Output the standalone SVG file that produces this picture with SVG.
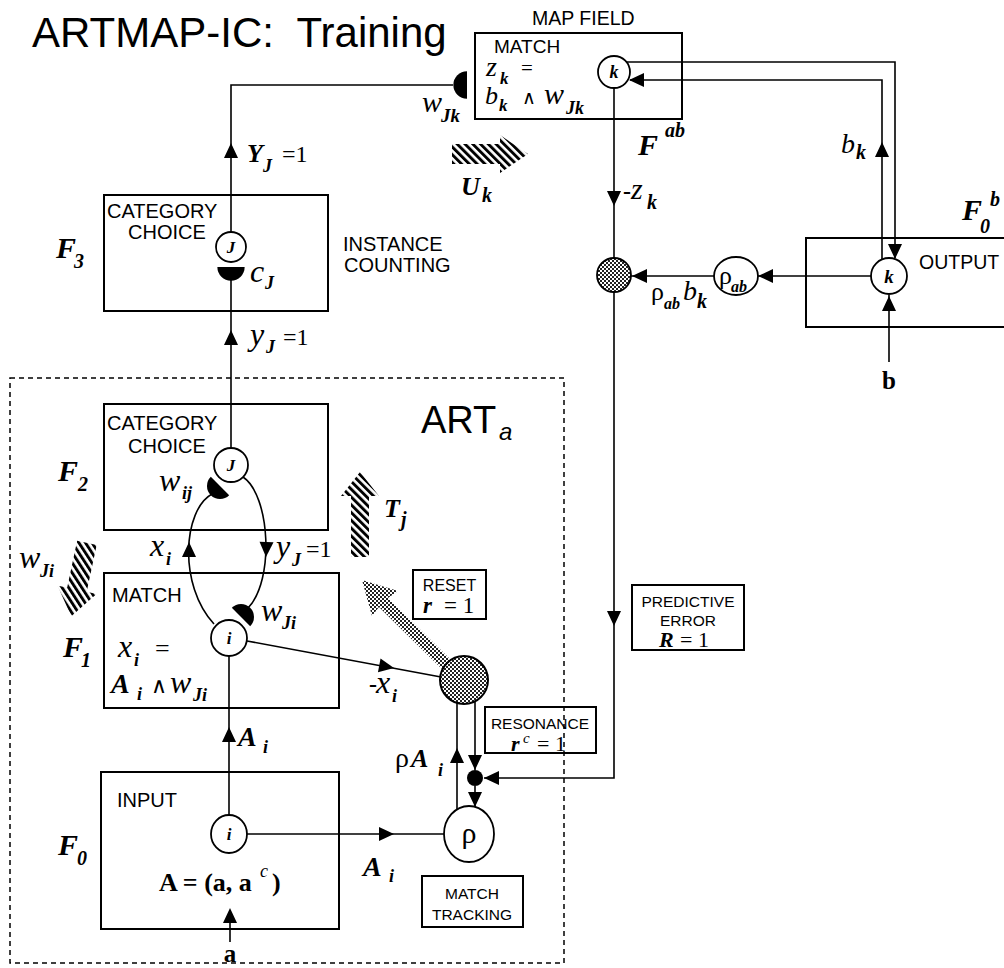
<svg xmlns="http://www.w3.org/2000/svg" xmlns:xlink="http://www.w3.org/1999/xlink" width="1004" height="968" viewBox="0 0 1004 968">
<style>
.s{font-family:"Liberation Sans",Arial,Helvetica,sans-serif;fill:#000}
.m{font-family:"Liberation Serif","Times New Roman",serif;font-style:italic;fill:#000}
.M{font-family:"Liberation Serif","Times New Roman",serif;font-style:italic;font-weight:bold;fill:#000}
.sb{font-family:"Liberation Serif","Times New Roman",serif;font-style:italic;font-weight:bold;fill:#000}
.rm{font-family:"Liberation Serif","Times New Roman",serif;fill:#000}
.bd{font-family:"Liberation Serif","Times New Roman",serif;font-weight:bold;fill:#000}
.box{fill:none;stroke:#000;stroke-width:2}
.node{fill:#fff;stroke:#000;stroke-width:1.8}
.ln{fill:none;stroke:#000;stroke-width:1.6}
.hd{fill:#000}
</style>
<defs>
<path id="ah" d="M0,0 L-15,-7 L-15,7 Z"/>
<path id="hdisk" d="M-13,0 A13,13 0 0 0 13,0 Z"/>
<pattern id="stripes" width="5.5" height="5.5" patternUnits="userSpaceOnUse" patternTransform="rotate(-45)">
<rect width="2.9" height="5.5" fill="#000"/>
</pattern>
<pattern id="stip" width="4" height="4" patternUnits="userSpaceOnUse">
<rect width="4" height="4" fill="#fff"/>
<rect width="2" height="2" fill="#222"/>
<rect x="2" y="2" width="2" height="2" fill="#222"/>
</pattern>
</defs>

<g id="title">
<text class="s" x="32" y="47" font-size="42">ARTMAP-IC:&#160; Training</text>
</g>

<g id="connectors">
<path class="ln" d="M231,233 V85 H453"/>
<use href="#ah" class="hd" transform="translate(231,143) rotate(-90)"/>
<path class="ln" d="M231,448 V280"/>
<use href="#ah" class="hd" transform="translate(231,330) rotate(-90)"/>
<path class="ln" d="M627,62 H895 V258"/>
<use href="#ah" class="hd" transform="translate(895,259) rotate(90)"/>
<path class="ln" d="M882,259 V80 H630"/>
<use href="#ah" class="hd" transform="translate(882,142) rotate(-90)"/>
<use href="#ah" class="hd" transform="translate(629,80) rotate(180)"/>
<path class="ln" d="M614,88 V258"/>
<use href="#ah" class="hd" transform="translate(614,206) rotate(90)"/>
<path class="ln" d="M614,292 V778 H484"/>
<use href="#ah" class="hd" transform="translate(614,626) rotate(90)"/>
<use href="#ah" class="hd" transform="translate(484,778) rotate(180)"/>
<path class="ln" d="M871,276 H758"/>
<use href="#ah" class="hd" transform="translate(758,276) rotate(180)"/>
<path class="ln" d="M714,276 H631"/>
<use href="#ah" class="hd" transform="translate(632,276) rotate(180)"/>
<path class="ln" d="M889,362 V295"/>
<use href="#ah" class="hd" transform="translate(889,296) rotate(-90)"/>
<path class="ln" d="M247,641 L441,677"/>
<use href="#ah" class="hd" transform="translate(394,668) rotate(10.5)"/>
<path class="ln" d="M475,702 V770"/>
<use href="#ah" class="hd" transform="translate(475,770) rotate(90)"/>
<path class="ln" d="M475,786 V807"/>
<use href="#ah" class="hd" transform="translate(475,807) rotate(90)"/>
<path class="ln" d="M457,811 V703"/>
<use href="#ah" class="hd" transform="translate(457,748) rotate(-90)"/>
<path class="ln" d="M247,834 H444"/>
<use href="#ah" class="hd" transform="translate(394,834)"/>
<path class="ln" d="M229,816 V656"/>
<use href="#ah" class="hd" transform="translate(229,727) rotate(-90)"/>
<path class="ln" d="M230,942 V910"/>
<use href="#ah" class="hd" transform="translate(230,908) rotate(-90)"/>
<path class="ln" d="M214,624 C178,585 183,510 212,494"/>
<use href="#ah" class="hd" transform="translate(189,542) rotate(-90)"/>
<path class="ln" d="M243,477 C270,495 275,580 248,608"/>
<use href="#ah" class="hd" transform="translate(266,557) rotate(92)"/>
</g>

<g id="art-a">
<rect x="10" y="378" width="554" height="585" fill="none" stroke="#000" stroke-width="1.5" stroke-dasharray="5,4"/>
<text class="s" x="421" y="433" font-size="38">ART</text>
<text class="s" x="499" y="440" font-size="24" font-style="italic">a</text>
</g>

<g id="map-field">
<text class="s" x="532" y="25" font-size="19.5">MAP FIELD</text>
<rect class="box" x="475" y="33" width="207" height="86"/>
<text class="s" x="494" y="53" font-size="19">MATCH</text>
<text class="m" x="486" y="76" font-size="28">z</text>
<text class="sb" x="500" y="84" font-size="17">k</text>
<text class="rm" x="521" y="75" font-size="21">=</text>
<text class="m" x="485" y="104" font-size="26">b</text>
<text class="sb" x="499" y="111" font-size="17">k</text>
<text class="rm" x="522" y="104" font-size="19">∧</text>
<text class="m" x="544" y="104" font-size="30">w</text>
<text class="sb" x="566" y="114" font-size="18">Jk</text>
<circle class="node" cx="614" cy="72" r="16"/>
<text class="sb" x="614" y="78" font-size="18" text-anchor="middle">k</text>
<text class="M" x="638" y="155" font-size="30">F</text>
<text class="sb" x="665" y="137" font-size="20">ab</text>
<use href="#hdisk" class="hd" transform="translate(467,85) rotate(90) scale(1.05)"/>
<text class="m" x="422" y="112" font-size="30">w</text>
<text class="sb" x="441" y="122" font-size="19">Jk</text>
<path d="M452,144 L500,144 L500,135 L528,154 L500,173 L500,164 L452,164 Z" fill="url(#stripes)"/>
<text class="M" x="461" y="195" font-size="26">U</text>
<text class="sb" x="482" y="202" font-size="20">k</text>
<text class="rm" x="623" y="199" font-size="24" font-weight="bold">-</text>
<text class="m" x="631" y="199" font-size="30">z</text>
<text class="sb" x="647" y="209" font-size="20">k</text>
</g>

<g id="output">
<rect class="box" x="806" y="238" width="220" height="89"/>
<text class="s" x="919" y="269" font-size="19.5">OUTPUT</text>
<circle class="node" cx="889" cy="276" r="18"/>
<text class="sb" x="889" y="283" font-size="19" text-anchor="middle">k</text>
<text class="M" x="962" y="220" font-size="30">F</text>
<text class="sb" x="980" y="233" font-size="20">0</text>
<text class="sb" x="990" y="206" font-size="20">b</text>
<text class="bd" x="889" y="389" font-size="25" text-anchor="middle">b</text>
<text class="m" x="841" y="153" font-size="28">b</text>
<text class="sb" x="856" y="159" font-size="20">k</text>
</g>

<g id="rho-ab">
<ellipse class="node" cx="736" cy="276" rx="22" ry="19"/>
<text class="rm" x="719" y="284" font-size="26">ρ</text>
<text class="sb" x="731" y="292" font-size="16">ab</text>
<text class="rm" x="651" y="300" font-size="26">ρ</text>
<text class="sb" x="664" y="309" font-size="16">ab</text>
<text class="m" x="683" y="300" font-size="28">b</text>
<text class="sb" x="697" y="308" font-size="20">k</text>
</g>

<g id="mismatch-node">
<circle cx="614" cy="275" r="17" fill="url(#stip)" stroke="#000" stroke-width="1.8"/>
</g>

<g id="F3">
<rect class="box" x="104" y="195" width="224" height="116"/>
<text class="s" x="107" y="218" font-size="20">CATEGORY</text>
<text class="s" x="128" y="239" font-size="20">CHOICE</text>
<circle class="node" cx="231" cy="247" r="15"/>
<text class="sb" x="231" y="253" font-size="17" text-anchor="middle">J</text>
<use href="#hdisk" class="hd" transform="translate(231,267) scale(1.05)"/>
<text class="m" x="250" y="282" font-size="32">c</text>
<text class="sb" x="265" y="289" font-size="18">J</text>
<text class="M" x="56" y="258" font-size="30">F</text>
<text class="sb" x="74" y="268" font-size="20">3</text>
<text class="M" x="247" y="162" font-size="26">Y</text>
<text class="sb" x="263" y="172" font-size="18">J</text>
<text class="rm" x="282" y="162" font-size="24">=1</text>
<text class="s" x="343" y="251" font-size="20">INSTANCE</text>
<text class="s" x="344" y="272" font-size="20">COUNTING</text>
<text class="m" x="250" y="345" font-size="32">y</text>
<text class="sb" x="266" y="353" font-size="18">J</text>
<text class="rm" x="283" y="345" font-size="24">=1</text>
</g>

<g id="F2">
<rect class="box" x="104" y="404" width="224" height="126"/>
<text class="s" x="107" y="430" font-size="20">CATEGORY</text>
<text class="s" x="128" y="453" font-size="20">CHOICE</text>
<circle class="node" cx="231" cy="465" r="17"/>
<text class="sb" x="231" y="471" font-size="17" text-anchor="middle">J</text>
<use href="#hdisk" class="hd" transform="translate(220,486) rotate(45)"/>
<text class="m" x="159" y="491" font-size="32">w</text>
<text class="sb" x="182" y="499" font-size="18">ij</text>
<text class="M" x="58" y="481" font-size="30">F</text>
<text class="sb" x="78" y="491" font-size="20">2</text>
<path d="M360,472 L379,496 L369,496 L369,557 L351,557 L351,496 L341,496 Z" fill="url(#stripes)"/>
<text class="M" x="384" y="517" font-size="26">T</text>
<text class="sb" x="401" y="526" font-size="20">j</text>
<text class="m" x="150" y="556" font-size="32">x</text>
<text class="sb" x="166" y="565" font-size="18">i</text>
<text class="m" x="276" y="557" font-size="32">y</text>
<text class="sb" x="292" y="566" font-size="18">J</text>
<text class="rm" x="306" y="557" font-size="24">=1</text>
</g>

<g id="F1">
<rect class="box" x="104" y="573" width="235" height="135"/>
<text class="s" x="112" y="602" font-size="20">MATCH</text>
<circle class="node" cx="229" cy="638" r="18"/>
<text class="sb" x="229" y="644" font-size="17" text-anchor="middle">i</text>
<text class="m" x="118" y="657" font-size="32">x</text>
<text class="sb" x="134" y="666" font-size="18">i</text>
<text class="rm" x="155" y="657" font-size="26">=</text>
<text class="M" x="111" y="693" font-size="28">A</text>
<text class="sb" x="137" y="700" font-size="18">i</text>
<text class="rm" x="151" y="693" font-size="22">∧</text>
<text class="m" x="170" y="693" font-size="32">w</text>
<text class="sb" x="193" y="701" font-size="18">Ji</text>
<text class="M" x="63" y="657" font-size="30">F</text>
<text class="sb" x="81" y="667" font-size="20">1</text>
<use href="#hdisk" class="hd" transform="translate(241,617) rotate(225)"/>
<text class="m" x="261" y="621" font-size="32">w</text>
<text class="sb" x="282" y="629" font-size="18">Ji</text>
<text class="m" x="19" y="568" font-size="32">w</text>
<text class="sb" x="40" y="577" font-size="18">Ji</text>
<path d="M69,542 L89,542 L89,590 L99,590 L79,617 L59,590 L69,590 Z" fill="url(#stripes)" transform="rotate(12 79 580)"/>
<text class="rm" x="369" y="692" font-size="24" font-weight="bold">-</text>
<text class="m" x="376" y="693" font-size="32">x</text>
<text class="sb" x="392" y="702" font-size="18">i</text>
<text class="M" x="238" y="746" font-size="28">A</text>
<text class="sb" x="263" y="753" font-size="18">i</text>
</g>

<g id="reset">
<rect class="box" x="413" y="570" width="73" height="49"/>
<text class="s" x="449.5" y="591" font-size="16" text-anchor="middle">RESET</text>
<text class="M" x="423" y="613" font-size="23">r</text>
<text class="rm" x="444" y="613" font-size="23">= 1</text>
<path d="M362,580 L398,591 L388,598 L452,661 L443,670 L379,607 L372,616 Z" fill="url(#stip)"/>
<circle cx="464" cy="680" r="24" fill="url(#stip)" stroke="#000" stroke-width="2"/>
</g>

<g id="predictive-error">
<rect class="box" x="632" y="585" width="112" height="65"/>
<text class="s" x="688" y="607" font-size="15.5" text-anchor="middle">PREDICTIVE</text>
<text class="s" x="688" y="626" font-size="15.5" text-anchor="middle">ERROR</text>
<text class="M" x="659" y="647" font-size="22">R</text>
<text class="rm" x="680" y="647" font-size="22">= 1</text>
</g>

<g id="resonance">
<rect class="box" x="485" y="707" width="111" height="46"/>
<text class="s" x="540" y="729" font-size="15.5" text-anchor="middle">RESONANCE</text>
<text class="M" x="511" y="751" font-size="22">r</text>
<text class="m" x="523" y="743" font-size="15">c</text>
<text class="rm" x="537" y="751" font-size="22">= 1</text>
<circle cx="475" cy="778" r="8" fill="#000"/>
</g>

<g id="match-tracking">
<ellipse class="node" cx="469" cy="834" rx="25" ry="28"/>
<text class="rm" x="469" y="843" font-size="30" text-anchor="middle">ρ</text>
<text class="rm" x="395" y="767" font-size="28">ρ</text>
<text class="M" x="411" y="767" font-size="26">A</text>
<text class="sb" x="438" y="776" font-size="18">i</text>
<rect class="box" x="422" y="876" width="101" height="51"/>
<text class="s" x="472" y="899" font-size="15.5" text-anchor="middle">MATCH</text>
<text class="s" x="472" y="920" font-size="15.5" text-anchor="middle">TRACKING</text>
<text class="M" x="363" y="876" font-size="28">A</text>
<text class="sb" x="389" y="882" font-size="18">i</text>
</g>

<g id="F0">
<rect class="box" x="101" y="772" width="238" height="157"/>
<text class="s" x="117" y="807" font-size="20">INPUT</text>
<ellipse class="node" cx="229" cy="834" rx="18" ry="19"/>
<text class="sb" x="229" y="840" font-size="17" text-anchor="middle">i</text>
<text class="bd" x="159" y="891" font-size="26">A = (a, a</text>
<text class="m" x="260" y="877" font-size="18">c</text>
<text class="bd" x="272" y="891" font-size="26"> )</text>
<text class="M" x="58" y="855" font-size="30">F</text>
<text class="sb" x="77" y="865" font-size="20">0</text>
<text class="bd" x="230" y="962" font-size="25" text-anchor="middle">a</text>
</g>
</svg>
